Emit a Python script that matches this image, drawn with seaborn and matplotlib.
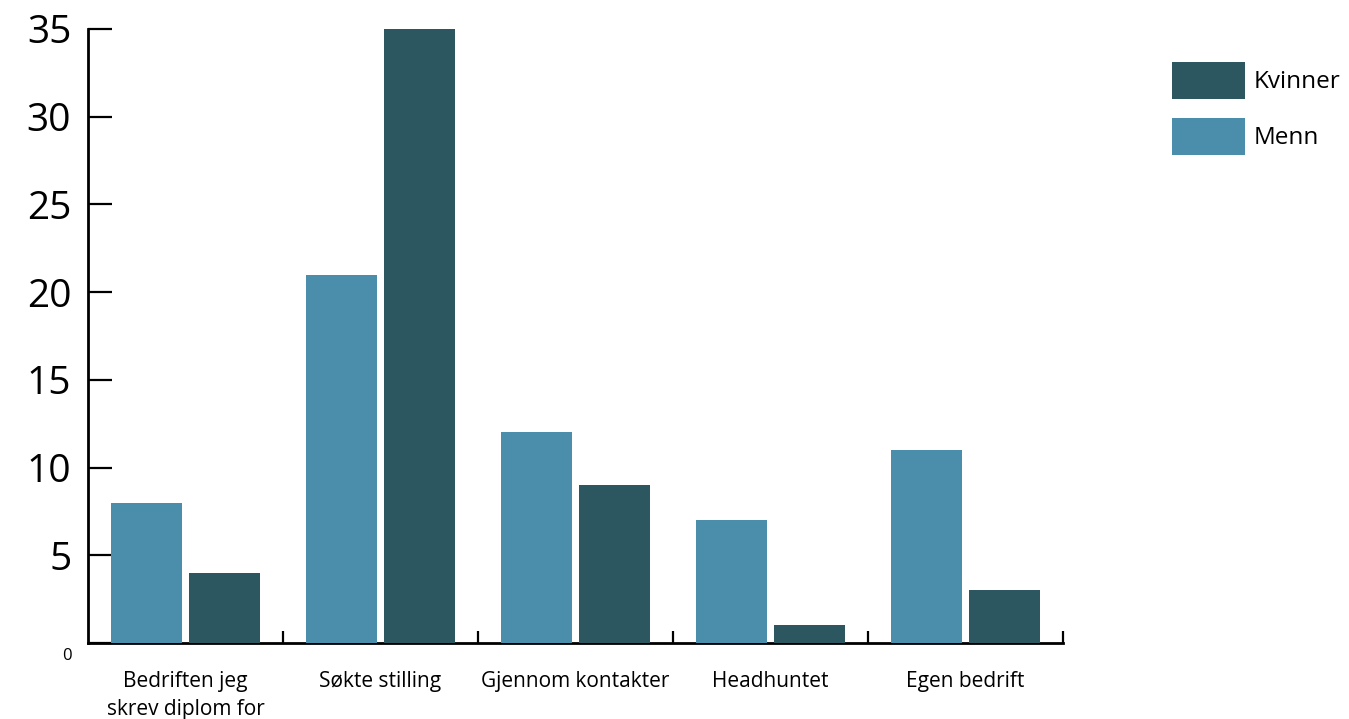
import pandas as pd
import numpy as np
import seaborn as sns
import matplotlib.pyplot as plt
from matplotlib.transforms import ScaledTranslation

# data
categories = ["Bedriften jeg\nskrev diplom for", "Søkte stilling", "Gjennom kontakter", "Headhuntet", "Egen bedrift"]
menn = [8, 21, 12, 7, 11]
kvinner = [4, 35, 9, 1, 3]
yticks = [0, 5, 10, 15, 20, 25, 30, 35]

df = pd.DataFrame({
    "kategori": categories * 2,
    "antall": menn + kvinner,
    "kjonn": ["Menn"] * len(menn) + ["Kvinner"] * len(kvinner),
})

sns.set_style("white")
plt.rcParams['font.family'] = ['Open Sans', 'DejaVu Sans']
plt.rcParams['text.color'] = 'black'

fig = plt.figure(figsize=(13.49, 7.19), dpi=100)
ax = fig.add_axes([0.0652, 0.1057, 0.788 - 0.0652, 0.9597 - 0.1057])

pal = {"Menn": "#4a8eab", "Kvinner": "#2d5760"}
sns.barplot(data=df, x="kategori", y="antall", hue="kjonn", hue_order=["Menn", "Kvinner"],
            palette=pal, width=0.8, gap=0.1, saturation=1, linewidth=0, ax=ax, zorder=3)

ax.set_xlim(-0.5, len(categories) - 0.5)
ax.set_ylim(0, 35)
ax.set_xlabel("")
ax.set_ylabel("")

sns.despine(ax=ax)
for s in ["left", "bottom"]:
    ax.spines[s].set_linewidth(2)
    ax.spines[s].set_color("black")

# y axis
ax.set_yticks(yticks)
ax.set_yticklabels([str(v) for v in yticks])
ax.tick_params(axis="y", left=True, direction="in", length=17, width=1.6, labelsize=28, pad=12,
               color="black", labelcolor="black")
lab0 = ax.get_yticklabels()[0]
lab0.set_fontsize(12)
lab0.set_transform(lab0.get_transform() + ScaledTranslation(0, -8 / 72, fig.dpi_scale_trans))

# x axis: labels at centres, ticks on boundaries
ax.set_xticks(range(len(categories)))
ax.set_xticklabels(categories, fontsize=15, linespacing=1.45)
ax.tick_params(axis="x", which="major", bottom=True, length=0, pad=20, labelcolor="black")
ax.set_xticks(np.arange(0.5, len(categories)), minor=True)
ax.tick_params(axis="x", which="minor", bottom=True, direction="in", length=9, width=1.6, color="black")

# legend
handles, labels = ax.get_legend_handles_labels()
order = [labels.index("Kvinner"), labels.index("Menn")]
ax.legend([handles[i] for i in order], [labels[i] for i in order],
          loc="upper left", bbox_to_anchor=(1172 / 1349, 1 - 62 / 719),
          bbox_transform=fig.transFigure, frameon=False, fontsize=17.5,
          handlelength=3.0, handleheight=1.96, labelspacing=0.79,
          handletextpad=0.35, borderpad=0, borderaxespad=0)

fig.savefig("out.png", dpi=100)
